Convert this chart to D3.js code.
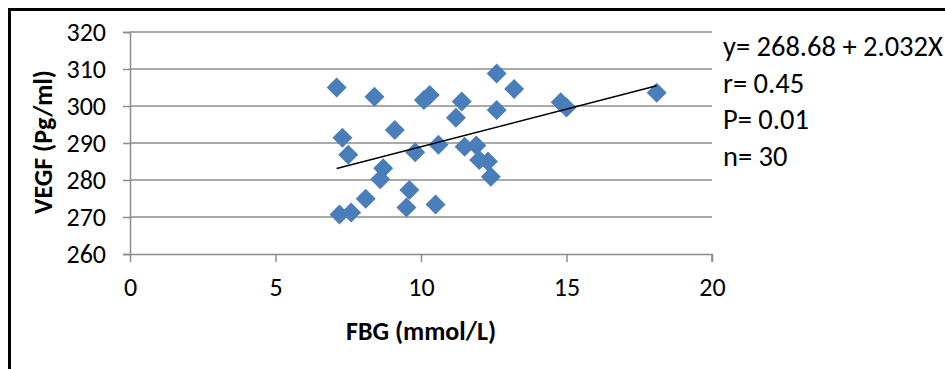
<!DOCTYPE html>
<html>
<head>
<meta charset="utf-8">
<script src="https://cdn.jsdelivr.net/npm/d3@7"></script>
<style>
  body { margin: 0; background: #fff; }
  text { font-family: Carlito, "Open Sans", sans-serif; }
</style>
</head>
<body>
<script>
// FBG (x) vs VEGF (y)
var fbg  = [7.1, 8.4, 10.1, 10.3, 7.3, 9.1, 7.5, 9.8, 8.7, 8.6, 9.6, 8.1, 9.5, 7.2, 7.6,
            10.5, 10.6, 11.4, 11.2, 12.6, 13.2, 12.6, 11.5, 11.9, 12.0, 12.3, 12.4, 14.8, 15.0, 18.1];
var vegf = [305, 302.5, 301.6, 303, 291.4, 293.5, 286.8, 287.5, 283.2, 280.2, 277.3, 274.9, 272.6, 270.7, 271.2,
            273.4, 289.5, 301.2, 296.8, 308.8, 304.6, 298.9, 289, 289.3, 285.4, 285, 280.9, 301, 299.6, 303.6];

var xTicks = [0, 5, 10, 15, 20];
var yTicks = [260, 270, 280, 290, 300, 310, 320];

var intercept = 268.68, slope = 2.032;
var statLines = ["y= 268.68 + 2.032X", "r= 0.45", "P= 0.01", "n= 30"];

var w = 945, h = 369;

var svg = d3.select("body").append("svg")
    .attr("width", w)
    .attr("height", h);

var x = d3.scaleLinear().domain([0, 20]).range([130, 712]);
var y = d3.scaleLinear().domain([260, 320]).range([254, 32]);

// outer frame (only top and left edges are in view)
svg.append("line").attr("x1", 8).attr("x2", w).attr("y1", 9.5).attr("y2", 9.5)
   .attr("stroke", "#000").attr("stroke-width", 3);
svg.append("line").attr("x1", 9.5).attr("x2", 9.5).attr("y1", 8).attr("y2", h)
   .attr("stroke", "#000").attr("stroke-width", 3);

// gridlines
svg.append("g").selectAll("line")
   .data(yTicks.slice(1))
   .enter().append("line")
   .attr("x1", x(0)).attr("x2", x(20))
   .attr("y1", function(d) { return y(d); })
   .attr("y2", function(d) { return y(d); })
   .attr("stroke", "#8c8c8c")
   .attr("stroke-width", 1.5);

// y axis
var yAxis = svg.append("g")
   .attr("transform", "translate(" + x(0) + ",0)")
   .call(d3.axisLeft(y).tickValues(yTicks).tickSize(7).tickPadding(17));
yAxis.selectAll("path, line").attr("stroke", "#8c8c8c").attr("stroke-width", 1.5);
yAxis.selectAll("text").attr("font-size", "26px").attr("fill", "#000")
   .attr("font-family", "Carlito, 'Open Sans', sans-serif");

// x axis
var xAxis = svg.append("g")
   .attr("transform", "translate(0," + y(260) + ")")
   .call(d3.axisBottom(x).tickValues(xTicks).tickSize(8).tickPadding(16));
xAxis.selectAll("path, line").attr("stroke", "#8c8c8c").attr("stroke-width", 1.5);
xAxis.select(".domain").attr("d", "M" + x(0) + ",0.5H" + x(20) + "V8");
xAxis.selectAll("text").attr("font-size", "26px").attr("fill", "#000")
   .attr("font-family", "Carlito, 'Open Sans', sans-serif");

// points
var diamond = d3.symbol().type(d3.symbolSquare).size(200);
svg.append("g").selectAll("path")
   .data(d3.zip(fbg, vegf))
   .enter().append("path")
   .attr("d", diamond)
   .attr("transform", function(d) {
      return "translate(" + x(d[0]) + "," + y(d[1]) + ") rotate(45)";
   })
   .attr("fill", "#4a7ebb");

// linear trend line
var xr = d3.extent(fbg);
svg.append("line")
   .attr("x1", x(xr[0])).attr("y1", y(intercept + slope * xr[0]))
   .attr("x2", x(xr[1])).attr("y2", y(intercept + slope * xr[1]))
   .attr("stroke", "#000")
   .attr("stroke-width", 1.6);

// axis titles
svg.append("text")
   .attr("x", 421).attr("y", 340)
   .attr("text-anchor", "middle")
   .attr("font-size", "26px").attr("font-weight", "bold")
   .text("FBG (mmol/L)");

svg.append("text")
   .attr("transform", "translate(52,142) rotate(-90)")
   .attr("text-anchor", "middle")
   .attr("font-size", "26px").attr("font-weight", "bold")
   .text("VEGF (Pg/ml)");

// stats text
svg.append("g").selectAll("text")
   .data(statLines)
   .enter().append("text")
   .attr("x", 723)
   .attr("y", function(d, i) { return 56 + i * 36.6; })
   .attr("font-size", "28.5px")
   .attr("fill", "#000")
   .text(function(d) { return d; });
</script>
</body>
</html>
